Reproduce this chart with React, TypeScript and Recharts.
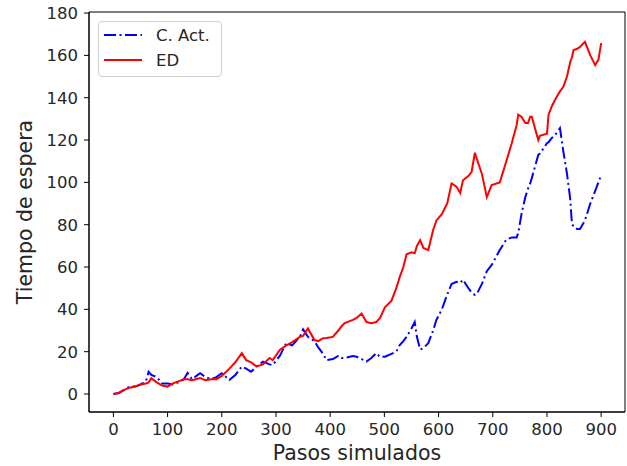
import { LineChart, Line, XAxis, YAxis, Legend, ReferenceArea } from "recharts";

// pasos simulados (x) and the two waiting-time series
const steps = [
  0, 10, 20, 30, 40, 50, 60, 65, 70, 80, 90, 100, 110, 120, 130, 137, 145, 160, 170, 180,
  190, 200, 214, 225, 237, 245, 254, 264, 276, 288, 294, 307, 319, 330, 344, 350, 359, 371, 378, 387,
  393, 405, 415, 421, 427, 442, 449, 458, 467, 476, 485, 492, 501, 513, 522, 528, 535, 541, 550, 556,
  560, 566, 572, 581, 590, 596, 606, 616, 624, 633, 640, 645, 655, 661, 667, 672, 680, 689, 698, 713,
  725, 735, 744, 747, 753, 760, 765, 769, 772, 784, 787, 800, 803, 809, 817, 824, 830, 837, 843, 846,
  849, 855, 861, 870, 880, 889, 895, 900,
];

const edValues = [
  0, 0.5, 2, 3, 3.5, 4.5, 5, 5.5, 7.5, 5.5, 4, 3.5, 5, 6, 7, 7, 6.5, 7.5, 6.5, 7,
  7, 8.5, 12, 15, 19.3, 16, 15, 13, 14, 17, 16, 20.8, 23, 24.5, 27, 27.5, 31, 25.5, 25, 26.4,
  26.5, 27, 30, 32, 33.5, 35, 36, 38, 34, 33.5, 34, 36, 41, 44, 50, 55, 60, 66, 67, 66.5,
  70, 72.7, 69, 68, 77.5, 82, 85, 90, 99.5, 98, 95, 101, 103, 105, 114, 110, 104, 93, 98.7, 100,
  110, 118.5, 127, 132, 131, 128, 128, 131, 131, 120, 122, 123, 132, 136, 140, 143, 145, 150, 157, 159,
  162.5, 163, 164, 166.4, 160, 155.4, 158, 165.8,
];

const cActValues = [
  0, 0.5, 2, 3.5, 3.5, 4.5, 6, 10.5, 9, 8, 5, 5, 4.5, 5.5, 7, 10, 7, 9.8, 8, 7,
  8, 9.8, 6.6, 9, 13, 12, 10.5, 13, 15.3, 14, 13.7, 18, 24, 23, 27, 30.5, 27, 25, 22, 19,
  16, 16.5, 18, 17, 17, 18, 17.6, 16.5, 15.3, 17, 19.3, 17.5, 17.6, 19, 20, 23, 25, 27, 31, 34,
  27, 21, 21.7, 24, 30, 35, 40, 47, 52, 53, 52.5, 54, 50, 48, 46.8, 48, 52, 58, 61, 68,
  73, 74, 74, 76, 85, 93, 97, 99.5, 102, 113, 113.6, 118.5, 119, 121, 123, 125.6, 115, 104, 92, 80.6,
  79, 78, 78, 82, 90, 96, 100, 103.4,
];

const xTicks = [0, 100, 200, 300, 400, 500, 600, 700, 800, 900];
const yTicks = [0, 20, 40, 60, 80, 100, 120, 140, 160, 180];
const xDomain = [-45, 944];
const yDomain = [-8.5, 180.5];

const seriesNames = ["C. Act.", "ED"];

const data = steps.map((s, i) => ({ step: s, cact: cActValues[i], ed: edValues[i] }));

const FONT = "'DejaVu Sans', sans-serif";
const tickStyle = { fill: "#262626", fontSize: 16.5, fontFamily: FONT };

function YLabel(props: any) {
  const vb = props.viewBox;
  const x = vb.x + 32;
  const y = vb.y + vb.height / 2;
  return (
    <text x={x} y={y} transform={`rotate(-90, ${x}, ${y})`} textAnchor="middle" fill="#262626" fontSize={20.5} fontFamily={FONT}>
      Tiempo de espera
    </text>
  );
}

function XLabel(props: any) {
  const vb = props.viewBox;
  return (
    <text x={vb.x + vb.width / 2} y={vb.y + 48} textAnchor="middle" fill="#262626" fontSize={20.5} fontFamily={FONT}>
      Pasos simulados
    </text>
  );
}

function LegendBox() {
  const rows = [
    { name: seriesNames[0], color: "#0000ff", dash: "12 3.5 2 3.5" },
    { name: seriesNames[1], color: "#ff0000", dash: undefined },
  ];
  return (
    <div
      style={{
        width: 122,
        height: 54,
        border: "1px solid #d0d0d0",
        borderRadius: 4,
        background: "rgba(255,255,255,0.8)",
        position: "relative",
        fontFamily: FONT,
        fontSize: 16.5,
        color: "#262626",
      }}
    >
      {rows.map((r, i) => (
        <div key={r.name} style={{ position: "absolute", left: 0, top: 2 + i * 25, height: 22, display: "flex", alignItems: "center" }}>
          <svg width={52} height={22} style={{ display: "block" }}>
            <line x1={5} x2={43} y1={11} y2={11} stroke={r.color} strokeWidth={2} strokeDasharray={r.dash} />
          </svg>
          <span style={{ marginLeft: 5, whiteSpace: "nowrap" }}>{r.name}</span>
        </div>
      ))}
    </div>
  );
}

export default function App() {
  return (
    <div style={{ position: "absolute", left: 0, top: 0, width: 627, height: 466, background: "#fff" }}>
      <LineChart width={627} height={466} data={data} margin={{ top: 12, right: 2, bottom: 0, left: 0 }}>
        <XAxis
          dataKey="step"
          type="number"
          domain={xDomain}
          ticks={xTicks}
          allowDataOverflow
          height={54}
          stroke="#000"
          tickSize={5}
          tickMargin={6}
          tick={tickStyle}
          label={<XLabel />}
        />
        <YAxis
          type="number"
          domain={yDomain}
          ticks={yTicks}
          allowDataOverflow
          width={89}
          stroke="#000"
          tickSize={5}
          tickMargin={6}
          tick={tickStyle}
          label={<YLabel />}
        />
        {/* matplotlib-style box around the plot */}
        <ReferenceArea x1={xDomain[0]} x2={xDomain[1]} y1={yDomain[0]} y2={yDomain[1]} fill="none" fillOpacity={0} stroke="#000" strokeWidth={1} ifOverflow="visible" />
        <Legend
          layout="vertical"
          align="center"
          verticalAlign="middle"
          content={<LegendBox />}
          wrapperStyle={{ left: 98, top: 21, width: 124 }}
        />
        <Line
          name={seriesNames[0]}
          dataKey="cact"
          stroke="#0000ff"
          strokeWidth={2}
          strokeDasharray="12 3.5 2 3.5"
          dot={false}
          type="linear"
          isAnimationActive={false}
        />
        <Line name={seriesNames[1]} dataKey="ed" stroke="#ff0000" strokeWidth={2} dot={false} type="linear" isAnimationActive={false} />
      </LineChart>
    </div>
  );
}
